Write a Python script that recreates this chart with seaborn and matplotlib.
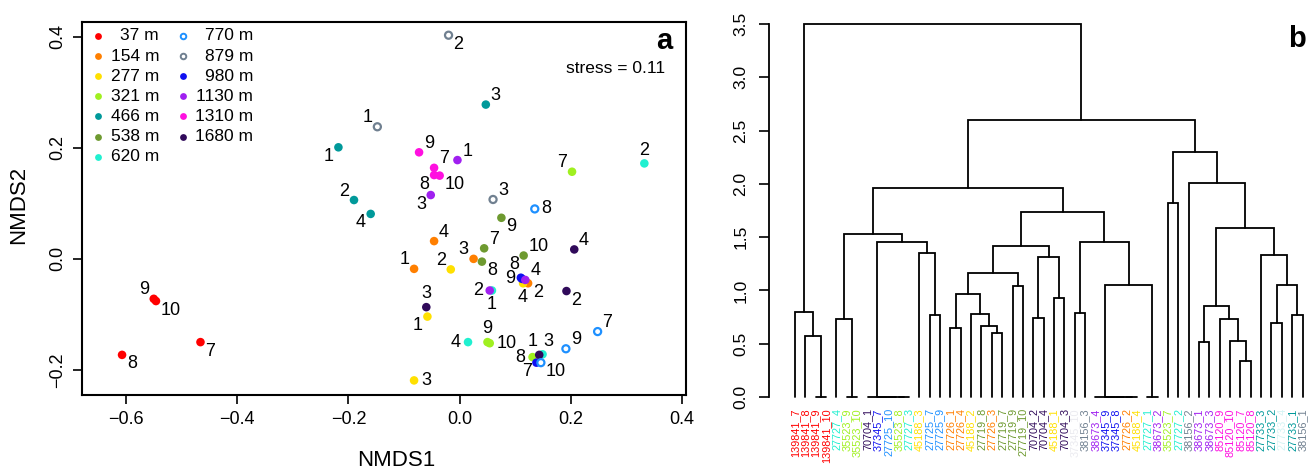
import numpy as np
import pandas as pd
import seaborn as sns
import matplotlib.pyplot as plt

# site depths, colours and the sequencing ids used in the dendrogram
depths = ['37 m', '154 m', '277 m', '321 m', '466 m', '538 m', '620 m',
          '770 m', '879 m', '980 m', '1130 m', '1310 m', '1680 m']
depth_cols = ['#FF0000', '#FF7F00', '#FFE000', '#A0F020', '#00999A', '#6E9A30', '#20F0D0',
              '#1E90FF', '#708090', '#1010F0', '#A020F0', '#FF10E0', '#300A5A']
site_ids = ['139841', '27726', '45188', '35523', '27733', '27719', '27727',
            '27725', '38156', '37345', '38673', '85120', '70704']
open_sites = ['770 m', '879 m']

# NMDS ordination (panel a)
pt_depth = (['37 m'] * 4 + ['154 m'] * 4 + ['277 m'] * 4 + ['321 m'] * 4 + ['466 m'] * 4
            + ['538 m'] * 4 + ['620 m'] * 4 + ['770 m'] * 4 + ['879 m'] * 3 + ['980 m'] * 3
            + ['1130 m'] * 4 + ['1310 m'] * 4 + ['1680 m'] * 4)
pt_sample = [7, 8, 9, 10, 1, 2, 3, 4, 1, 2, 3, 4, 7, 8, 9, 10, 1, 2, 3, 4,
             7, 8, 9, 10, 1, 2, 3, 4, 7, 8, 9, 10, 1, 2, 3, 7, 8, 9,
             1, 2, 3, 4, 7, 8, 9, 10, 1, 2, 3, 4]
nmds1 = [-0.466, -0.607, -0.550, -0.546,
         -0.082, 0.123, 0.025, -0.046,
         -0.058, -0.016, -0.082, 0.114,
         0.202, 0.131, 0.050, 0.054,
         -0.218, -0.190, 0.047, -0.160,
         0.044, 0.040, 0.075, 0.115,
         0.058, 0.332, 0.149, 0.015,
         0.248, 0.135, 0.191, 0.146,
         -0.148, -0.020, 0.060,
         0.138, 0.110, 0.112,
         -0.004, 0.054, -0.052, 0.118,
         -0.046, -0.046, -0.073, -0.036,
         0.143, 0.192, -0.060, 0.206]
nmds2 = [-0.150, -0.173, -0.072, -0.076,
         -0.018, -0.044, 0.000, 0.032,
         -0.104, -0.019, -0.219, -0.044,
         0.157, -0.177, -0.150, -0.152,
         0.201, 0.106, 0.278, 0.081,
         0.019, -0.005, 0.074, 0.006,
         -0.057, 0.172, -0.172, -0.150,
         -0.131, 0.090, -0.162, -0.187,
         0.238, 0.403, 0.107,
         -0.187, -0.034, -0.036,
         0.178, -0.057, 0.115, -0.038,
         0.164, 0.151, 0.192, 0.150,
         -0.173, -0.058, -0.087, 0.017]
stress = 0.11

# where each sample number sits relative to its point
lab_pos = ['lr', 'lr', 'ul', 'lr', 'ul', 'lr', 'ul', 'ur', 'll', 'ul', 'r', 'd',
           'ul', 'l', 'u', 'r', 'll', 'ul', 'ur', 'll', 'ur', 'lr', 'lr', 'ur',
           'd', 'u', 'UR', 'l', 'ur', 'r', 'ur', 'lr', 'ul', 'lr', 'ur', 'll', 'UL', 'l',
           'ur', 'l', 'll', 'ur', 'ur', 'll', 'ur', 'lr', 'UL', 'lr', 'u', 'ur']

# hierarchical clustering (panel b), R hclust style merge table
leaf_labels = ['139841_7', '139841_8', '139841_9', '139841_10', '27727_4', '35523_9', '35523_10',
               '70704_1', '37345_7', '27725_10', '35523_8', '27727_3', '45188_3', '27725_7',
               '27725_9', '27726_1', '27726_4', '45188_2', '27719_8', '27726_3', '27719_7',
               '27719_9', '27719_10', '70704_2', '70704_4', '45188_1', '70704_3', '37345_10',
               '38156_3', '38673_4', '37345_9', '37345_8', '27726_2', '45188_4', '27727_1',
               '38673_2', '35523_7', '27727_2', '38156_2', '38673_1', '38673_3', '85120_9',
               '85120_10', '85120_7', '85120_8', '27733_3', '27733_2', '27733_4', '27733_1',
               '38156_1']
merge_a = [-3, -2, -1, -6, -5, -11, -10, -9, -8, -14, -13, 9, 5, -16, -20, -19, -18, 14, -22, 18,
           -24, -26, 21, 20, -28, -33, -32, -31, -30, -35, 29, 25, 24, 13, -37, -40, -44, -43,
           -42, 36, -47, -49, 41, -46, 40, -39, 35, 34, 3]
merge_b = [-4, 1, 2, -7, 4, -12, 6, 7, 8, -15, 10, 11, 12, -17, -21, 15, 16, 17, -23, 19,
           -25, -27, 22, 23, -29, -34, 26, 27, 28, -36, 30, 31, 32, 33, -38, -41, -45, 37,
           38, 39, -48, -50, 42, 43, 44, 45, 46, 47, 48]
merge_h = [0, 0.57, 0.80, 0, 0.73, 0, 0, 0, 0, 0.765, 1.355, 1.455, 1.525, 0.645, 0.60, 0.665,
           0.78, 0.97, 1.045, 1.165, 0.745, 0.93, 1.31, 1.42, 0.79, 0, 0, 0, 0, 0, 1.05, 1.455,
           1.735, 1.96, 1.825, 0.515, 0.335, 0.53, 0.735, 0.85, 0.695, 0.765, 1.055, 1.33, 1.59,
           2.005, 2.295, 2.60, 3.50]
faint_labels = {'37345_10': '#EBEBF0', '27733_4': '#D4F4F4'}

sns.set_style('ticks')
plt.rcParams['font.family'] = ['Liberation Sans', 'DejaVu Sans']
plt.rcParams['text.color'] = 'black'
plt.rcParams['axes.labelcolor'] = 'black'
plt.rcParams['axes.edgecolor'] = 'black'
plt.rcParams['xtick.color'] = 'black'
plt.rcParams['ytick.color'] = 'black'
plt.rcParams['axes.linewidth'] = 1.3
plt.rcParams['xtick.major.width'] = 1.2
plt.rcParams['ytick.major.width'] = 1.2

pal = dict(zip(depths, depth_cols))
W, H = 1312, 469
fig = plt.figure(figsize=(W / 100, H / 100), dpi=100)

# ---------- panel a ----------
ax1 = fig.add_axes([82 / W, 1 - 395 / H, (685.5 - 82) / W, (395 - 22) / H])
df = pd.DataFrame({'depth': pt_depth, 'sample': pt_sample, 'NMDS1': nmds1, 'NMDS2': nmds2})
filled = df[~df.depth.isin(open_sites)]
hollow = df[df.depth.isin(open_sites)]
sns.scatterplot(data=filled, x='NMDS1', y='NMDS2', hue='depth', palette=pal, s=38,
                edgecolor='none', linewidth=0, legend=False, ax=ax1, zorder=3)
sns.scatterplot(data=hollow, x='NMDS1', y='NMDS2', hue='depth', palette=pal, s=26,
                legend=False, ax=ax1, zorder=3)
ring = ax1.collections[-1]
ring.set_edgecolors(ring.get_facecolors())
ring.set_facecolors('white')
ring.set_linewidth(1.6)

offs = {'ur': (3.5, 6.5, 'left'), 'ul': (-3.5, 6.5, 'right'),
        'lr': (3.5, -6.5, 'left'), 'll': (-3.5, -6.5, 'right'),
        'UR': (0.5, 9.5, 'left'), 'UL': (-1, 9.5, 'right'),
        'r': (5, 0, 'left'), 'l': (-5, 0, 'right'),
        'u': (0, 9.5, 'center'), 'd': (0, -10, 'center')}
for x, y, n, p in zip(nmds1, nmds2, pt_sample, lab_pos):
    dx, dy, ha = offs[p]
    ax1.annotate(str(n), (x, y), xytext=(dx, dy), textcoords='offset points',
                 ha=ha, va='center', fontsize=13, zorder=4)

ax1.set_xlim(-0.679, 0.406)
ax1.set_ylim(-0.2453, 0.4268)
xt = [-0.6, -0.4, -0.2, 0.0, 0.2, 0.4]
yt = [-0.2, 0.0, 0.2, 0.4]
ax1.set_xticks(xt)
ax1.set_xticklabels([f'{v:.1f}'.replace('-', '\u2212') for v in xt], fontsize=13)
ax1.set_yticks(yt)
ax1.set_yticklabels([f'{v:.1f}'.replace('-', '\u2212') for v in yt], fontsize=13,
                    rotation=90, va='center')
ax1.tick_params(axis='both', direction='out', length=6.5, pad=5)
for s in ax1.spines.values():
    s.set_linewidth(1.5)
ax1.set_xlabel('NMDS1', fontsize=16)
ax1.xaxis.set_label_coords(0.521, -0.148)
ax1.set_ylabel('NMDS2', fontsize=16)
ax1.yaxis.set_label_coords(-0.088, 0.51)

# legend, two columns, numbers right-aligned as in R
ncol1 = 7
for i, (d, c) in enumerate(zip(depths, depth_cols)):
    col, row = divmod(i, ncol1)
    mx = [0.026, 0.1679][col]
    tx = [0.1276, 0.2838][col]
    yy = 0.9625 - row * 0.0539
    if d in open_sites:
        ax1.scatter(mx, yy, s=16, facecolor='white', edgecolor=c, linewidth=1.4,
                    transform=ax1.transAxes, clip_on=False, zorder=5)
    else:
        ax1.scatter(mx, yy, s=24, color=c, linewidth=0, transform=ax1.transAxes,
                    clip_on=False, zorder=5)
    ax1.text(tx, yy, d, transform=ax1.transAxes, ha='right', va='center', fontsize=12.5)

ax1.text(0.967, 0.876, f'stress = {stress}', transform=ax1.transAxes, ha='right',
         va='center', fontsize=12.5)
ax1.text(0.979, 0.95, 'a', transform=ax1.transAxes, ha='right', va='center',
         fontsize=21, fontweight='bold')

# ---------- panel b ----------
ax2 = fig.add_axes([769 / W, 1 - 400 / H, (1310 - 769) / W, (400 - 20) / H])
node_x, node_h = {}, {}
for k, (a, b, h) in enumerate(zip(merge_a, merge_b, merge_h), start=1):
    xs, hs = [], []
    for c in (a, b):
        if c < 0:
            xs.append(-c)
            hs.append(0.0)
        else:
            xs.append(node_x[c])
            hs.append(node_h[c])
    node_x[k] = (xs[0] + xs[1]) / 2
    node_h[k] = h
    ax2.plot([xs[0], xs[0], xs[1], xs[1]], [hs[0], h, h, hs[1]], color='black',
             lw=1.3, solid_joinstyle='miter', clip_on=False)

site_col = dict(zip(site_ids, depth_cols))
for i, lab in enumerate(leaf_labels, start=1):
    col = faint_labels.get(lab, site_col[lab.split('_')[0]])
    ax2.annotate(lab, (i, 0), xytext=(0, -8), textcoords='offset points', rotation=90,
                 ha='center', va='top', fontsize=7.8, color=col, annotation_clip=False)

ax2.set_xlim(-1.51, 50.72)
ax2.set_ylim(-0.028, 3.5375)
ax2.set_xticks([])
yt2 = np.arange(0, 3.51, 0.5)
ax2.set_yticks(yt2)
ax2.set_yticklabels([f'{v:.1f}' for v in yt2], fontsize=12.5, rotation=90, va='center')
ax2.tick_params(axis='y', direction='out', length=7, pad=8)
for s in ['top', 'right', 'bottom']:
    ax2.spines[s].set_visible(False)
ax2.spines['left'].set_bounds(0, 3.5)
ax2.spines['left'].set_linewidth(1.3)
fig.text(1306 / W, 1 - 39 / H, 'b', ha='right', va='center', fontsize=21, fontweight='bold')

fig.savefig('out.png', dpi=100)
